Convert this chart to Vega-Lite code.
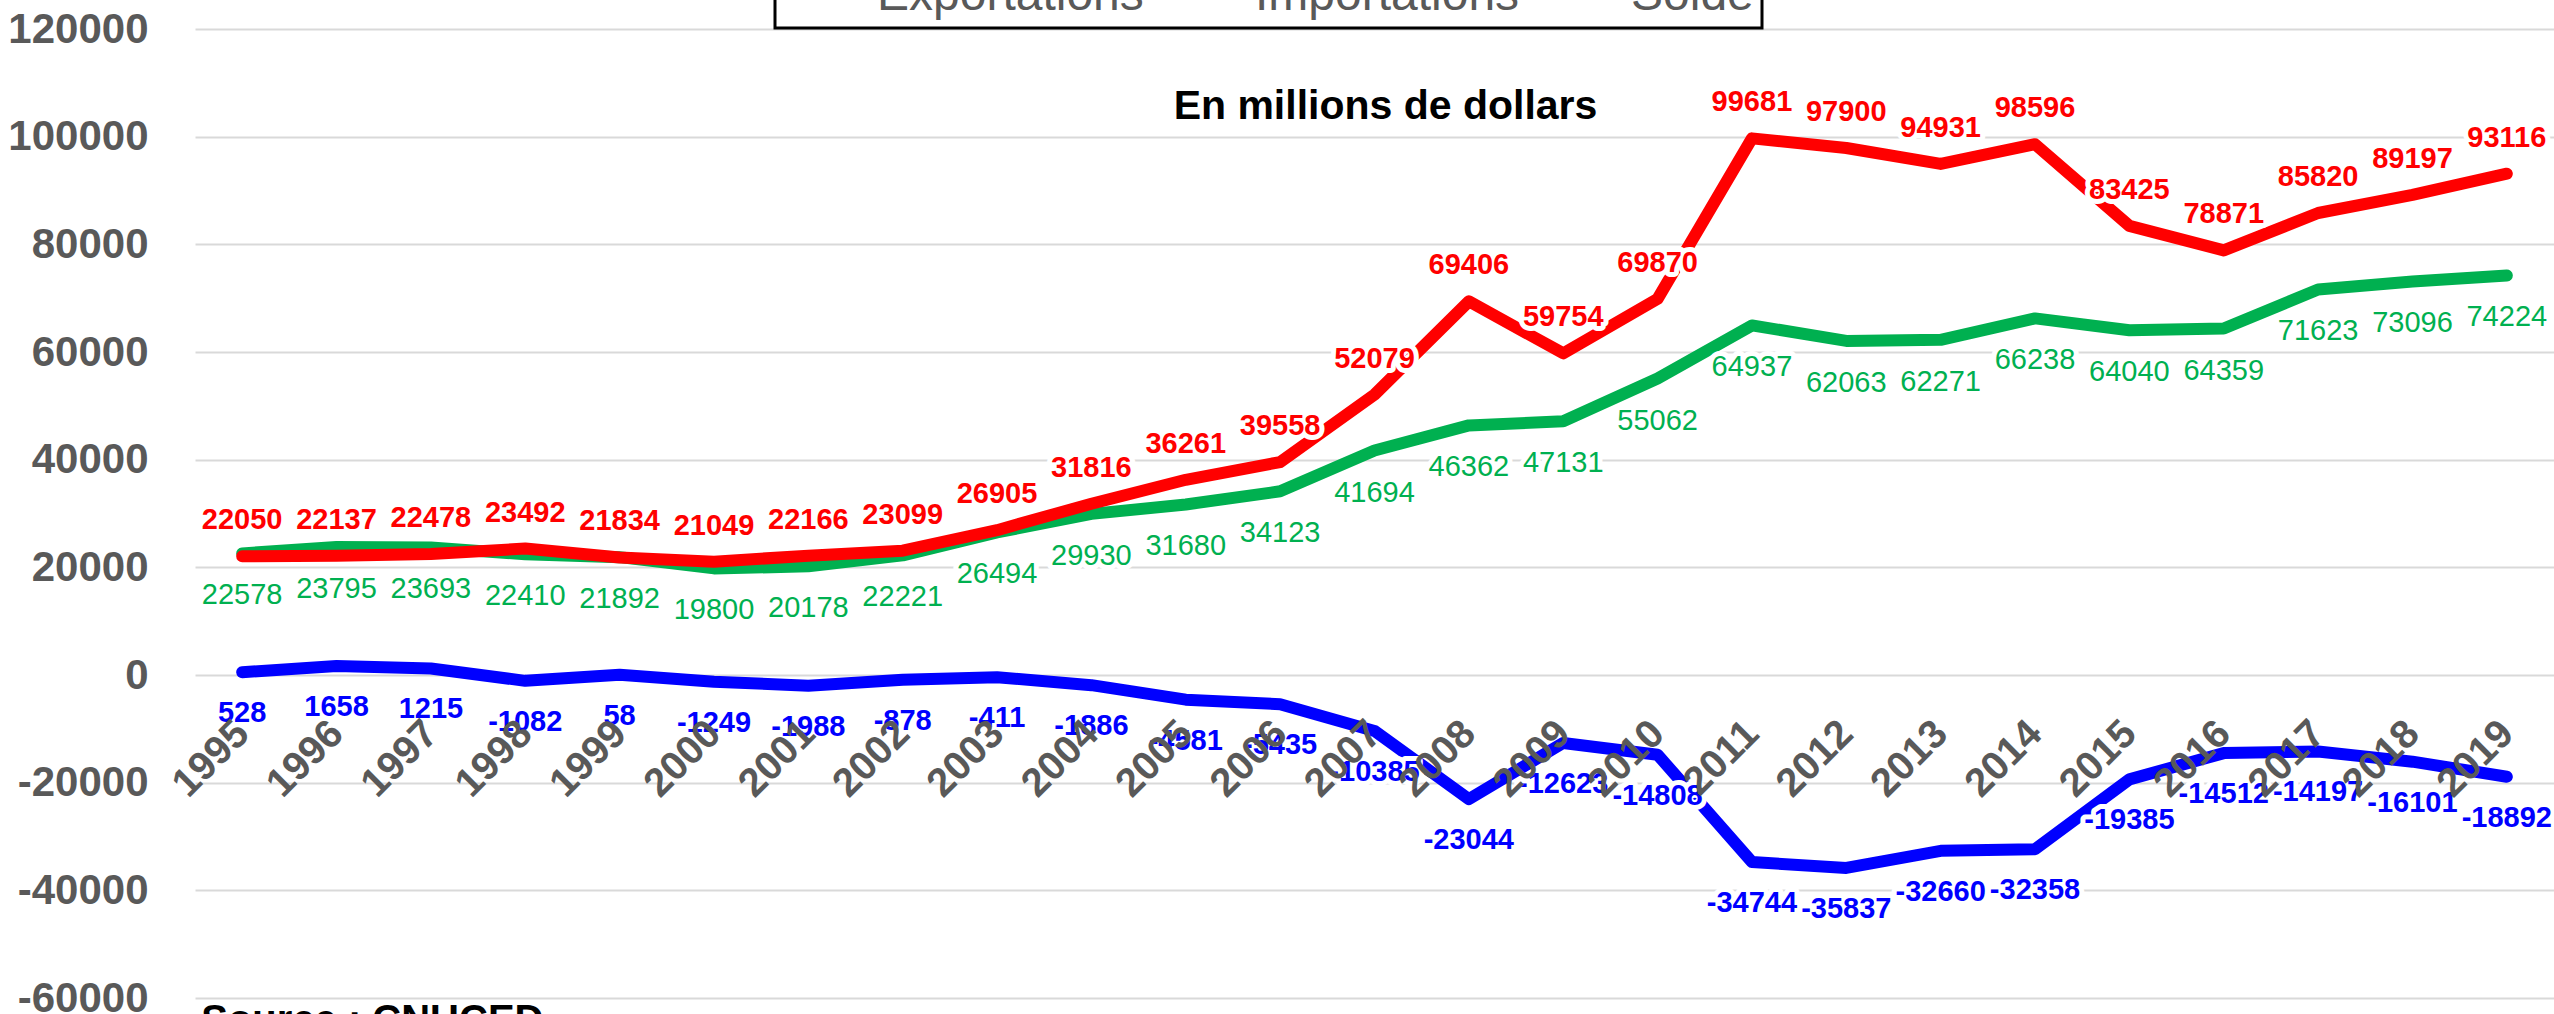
{
  "$schema": "https://vega.github.io/schema/vega-lite/v6.json",
  "width": 2359,
  "height": 969,
  "autosize": {"type": "none"},
  "padding": {"left": 195, "top": 29, "right": 0, "bottom": 16},
  "background": "white",
  "config": {"view": {"stroke": null}, "font": "Liberation Sans"},
  "datasets": {
    "series": [
      {"annee": "1995", "serie": "Exportations", "valeur": 22578},
      {"annee": "1996", "serie": "Exportations", "valeur": 23795},
      {"annee": "1997", "serie": "Exportations", "valeur": 23693},
      {"annee": "1998", "serie": "Exportations", "valeur": 22410},
      {"annee": "1999", "serie": "Exportations", "valeur": 21892},
      {"annee": "2000", "serie": "Exportations", "valeur": 19800},
      {"annee": "2001", "serie": "Exportations", "valeur": 20178},
      {"annee": "2002", "serie": "Exportations", "valeur": 22221},
      {"annee": "2003", "serie": "Exportations", "valeur": 26494},
      {"annee": "2004", "serie": "Exportations", "valeur": 29930},
      {"annee": "2005", "serie": "Exportations", "valeur": 31680},
      {"annee": "2006", "serie": "Exportations", "valeur": 34123},
      {"annee": "2007", "serie": "Exportations", "valeur": 41694},
      {"annee": "2008", "serie": "Exportations", "valeur": 46362},
      {"annee": "2009", "serie": "Exportations", "valeur": 47131},
      {"annee": "2010", "serie": "Exportations", "valeur": 55062},
      {"annee": "2011", "serie": "Exportations", "valeur": 64937},
      {"annee": "2012", "serie": "Exportations", "valeur": 62063},
      {"annee": "2013", "serie": "Exportations", "valeur": 62271},
      {"annee": "2014", "serie": "Exportations", "valeur": 66238},
      {"annee": "2015", "serie": "Exportations", "valeur": 64040},
      {"annee": "2016", "serie": "Exportations", "valeur": 64359},
      {"annee": "2017", "serie": "Exportations", "valeur": 71623},
      {"annee": "2018", "serie": "Exportations", "valeur": 73096},
      {"annee": "2019", "serie": "Exportations", "valeur": 74224},
      {"annee": "1995", "serie": "Importations", "valeur": 22050},
      {"annee": "1996", "serie": "Importations", "valeur": 22137},
      {"annee": "1997", "serie": "Importations", "valeur": 22478},
      {"annee": "1998", "serie": "Importations", "valeur": 23492},
      {"annee": "1999", "serie": "Importations", "valeur": 21834},
      {"annee": "2000", "serie": "Importations", "valeur": 21049},
      {"annee": "2001", "serie": "Importations", "valeur": 22166},
      {"annee": "2002", "serie": "Importations", "valeur": 23099},
      {"annee": "2003", "serie": "Importations", "valeur": 26905},
      {"annee": "2004", "serie": "Importations", "valeur": 31816},
      {"annee": "2005", "serie": "Importations", "valeur": 36261},
      {"annee": "2006", "serie": "Importations", "valeur": 39558},
      {"annee": "2007", "serie": "Importations", "valeur": 52079},
      {"annee": "2008", "serie": "Importations", "valeur": 69406},
      {"annee": "2009", "serie": "Importations", "valeur": 59754},
      {"annee": "2010", "serie": "Importations", "valeur": 69870},
      {"annee": "2011", "serie": "Importations", "valeur": 99681},
      {"annee": "2012", "serie": "Importations", "valeur": 97900},
      {"annee": "2013", "serie": "Importations", "valeur": 94931},
      {"annee": "2014", "serie": "Importations", "valeur": 98596},
      {"annee": "2015", "serie": "Importations", "valeur": 83425},
      {"annee": "2016", "serie": "Importations", "valeur": 78871},
      {"annee": "2017", "serie": "Importations", "valeur": 85820},
      {"annee": "2018", "serie": "Importations", "valeur": 89197},
      {"annee": "2019", "serie": "Importations", "valeur": 93116},
      {"annee": "1995", "serie": "Solde", "valeur": 528},
      {"annee": "1996", "serie": "Solde", "valeur": 1658},
      {"annee": "1997", "serie": "Solde", "valeur": 1215},
      {"annee": "1998", "serie": "Solde", "valeur": -1082},
      {"annee": "1999", "serie": "Solde", "valeur": 58},
      {"annee": "2000", "serie": "Solde", "valeur": -1249},
      {"annee": "2001", "serie": "Solde", "valeur": -1988},
      {"annee": "2002", "serie": "Solde", "valeur": -878},
      {"annee": "2003", "serie": "Solde", "valeur": -411},
      {"annee": "2004", "serie": "Solde", "valeur": -1886},
      {"annee": "2005", "serie": "Solde", "valeur": -4581},
      {"annee": "2006", "serie": "Solde", "valeur": -5435},
      {"annee": "2007", "serie": "Solde", "valeur": -10385},
      {"annee": "2008", "serie": "Solde", "valeur": -23044},
      {"annee": "2009", "serie": "Solde", "valeur": -12623},
      {"annee": "2010", "serie": "Solde", "valeur": -14808},
      {"annee": "2011", "serie": "Solde", "valeur": -34744},
      {"annee": "2012", "serie": "Solde", "valeur": -35837},
      {"annee": "2013", "serie": "Solde", "valeur": -32660},
      {"annee": "2014", "serie": "Solde", "valeur": -32358},
      {"annee": "2015", "serie": "Solde", "valeur": -19385},
      {"annee": "2016", "serie": "Solde", "valeur": -14512},
      {"annee": "2017", "serie": "Solde", "valeur": -14197},
      {"annee": "2018", "serie": "Solde", "valeur": -16101},
      {"annee": "2019", "serie": "Solde", "valeur": -18892}
    ]
  },
  "layer": [
    {
      "data": {"name": "series"},
      "mark": {"type": "line", "strokeWidth": 12, "strokeCap": "round", "strokeJoin": "round"},
      "encoding": {
        "x": {
          "field": "annee", "type": "ordinal",
          "scale": {"type": "point", "padding": 0.5},
          "axis": {
            "title": null, "orient": "bottom", "offset": -323, "zindex": 1,
            "domain": false, "ticks": false, "tickSize": 0, "grid": false,
            "labelAngle": -45, "labelAlign": "right", "labelBaseline": "middle",
            "labelFontSize": 40, "labelFontWeight": "bold", "labelColor": "#595959",
            "labelPadding": 52, "labelOffset": 0, "labelOverlap": false
          }
        },
        "y": {
          "field": "valeur", "type": "quantitative",
          "scale": {"domain": [-60000, 120000], "nice": false, "zero": false},
          "axis": {
            "title": null, "values": [-60000, -40000, -20000, 0, 20000, 40000, 60000, 80000, 100000, 120000],
            "labelExpr": "'' + datum.value",
            "domain": false, "ticks": false, "tickSize": 0,
            "grid": true, "gridColor": "#d9d9d9", "gridWidth": 2,
            "labelFontSize": 42, "labelFontWeight": "bold", "labelColor": "#595959",
            "labelPadding": 47
          }
        },
        "color": {
          "field": "serie", "type": "nominal",
          "scale": {"domain": ["Exportations", "Importations", "Solde"], "range": ["#00B050", "#FF0000", "#0000FF"]},
          "legend": {
            "title": null, "orient": "none", "legendX": 580, "legendY": -91,
            "direction": "horizontal", "symbolType": "stroke", "symbolSize": 1600,
            "symbolStrokeWidth": 11, "labelFontSize": 48, "labelColor": "#595959",
            "labelBaseline": "top", "labelOffset": 43, "columnPadding": 0, "padding": 8,
            "fillColor": "white", "strokeColor": "black",
            "labelLimit": 1000,
            "encode": {"legend": {"update": {"strokeWidth": {"value": 3}}}}
          }
        }
      }
    },
    {
      "data": {"name": "series"},
      "transform": [{"filter": "datum.serie === 'Exportations'"}],
      "mark": {"type": "text", "fontSize": 29, "fill": "white", "stroke": "white", "strokeWidth": 10, "strokeJoin": "round", "dy": 51, "baseline": "alphabetic"},
      "encoding": {
        "x": {"field": "annee", "type": "ordinal"},
        "y": {"field": "valeur", "type": "quantitative"},
        "text": {"field": "valeur", "type": "nominal"}
      }
    },
    {
      "data": {"name": "series"},
      "transform": [{"filter": "datum.serie === 'Importations'"}],
      "mark": {"type": "text", "fontSize": 29, "fontWeight": "bold", "fill": "white", "stroke": "white", "strokeWidth": 10, "strokeJoin": "round", "dy": -27, "baseline": "alphabetic"},
      "encoding": {
        "x": {"field": "annee", "type": "ordinal"},
        "y": {"field": "valeur", "type": "quantitative"},
        "text": {"field": "valeur", "type": "nominal"}
      }
    },
    {
      "data": {"name": "series"},
      "transform": [{"filter": "datum.serie === 'Solde'"}],
      "mark": {"type": "text", "fontSize": 29, "fontWeight": "bold", "fill": "white", "stroke": "white", "strokeWidth": 10, "strokeJoin": "round", "dy": 50, "baseline": "alphabetic"},
      "encoding": {
        "x": {"field": "annee", "type": "ordinal"},
        "y": {"field": "valeur", "type": "quantitative"},
        "text": {"field": "valeur", "type": "nominal"}
      }
    },
    {
      "data": {"name": "series"},
      "transform": [{"filter": "datum.serie === 'Exportations'"}],
      "mark": {"type": "text", "fontSize": 29, "fill": "#00B050", "dy": 51, "baseline": "alphabetic"},
      "encoding": {
        "x": {"field": "annee", "type": "ordinal"},
        "y": {"field": "valeur", "type": "quantitative"},
        "text": {"field": "valeur", "type": "nominal"}
      }
    },
    {
      "data": {"name": "series"},
      "transform": [{"filter": "datum.serie === 'Importations'"}],
      "mark": {"type": "text", "fontSize": 29, "fontWeight": "bold", "fill": "#FF0000", "dy": -27, "baseline": "alphabetic"},
      "encoding": {
        "x": {"field": "annee", "type": "ordinal"},
        "y": {"field": "valeur", "type": "quantitative"},
        "text": {"field": "valeur", "type": "nominal"}
      }
    },
    {
      "data": {"name": "series"},
      "transform": [{"filter": "datum.serie === 'Solde'"}],
      "mark": {"type": "text", "fontSize": 29, "fontWeight": "bold", "fill": "#0000FF", "dy": 50, "baseline": "alphabetic"},
      "encoding": {
        "x": {"field": "annee", "type": "ordinal"},
        "y": {"field": "valeur", "type": "quantitative"},
        "text": {"field": "valeur", "type": "nominal"}
      }
    },
    {
      "data": {"values": [{}]},
      "mark": {"type": "text", "text": "En millions de dollars", "fontSize": 41, "fontWeight": "bold", "fill": "black", "align": "center", "baseline": "alphabetic", "dx": 11},
      "encoding": {
        "x": {"datum": "2007", "type": "ordinal"},
        "y": {"datum": 103300, "type": "quantitative"}
      }
    },
    {
      "data": {"values": [{}]},
      "mark": {"type": "text", "text": "Source : CNUCED", "fontSize": 40, "fontWeight": "bold", "fill": "black", "align": "left", "baseline": "top", "dx": -41, "dy": 3},
      "encoding": {
        "x": {"datum": "1995", "type": "ordinal"},
        "y": {"datum": -60000, "type": "quantitative"}
      }
    }
  ]
}
